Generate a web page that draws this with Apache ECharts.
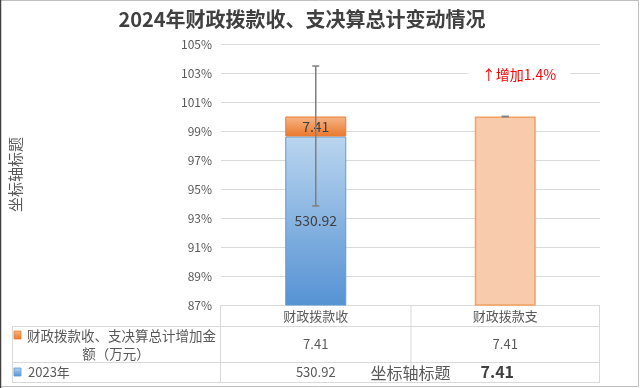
<!DOCTYPE html>
<html><head><meta charset="utf-8">
<script src="https://cdn.jsdelivr.net/npm/echarts@6/dist/echarts.min.js"></script>
<style>html,body{margin:0;padding:0;background:#fff}#c{width:640px;height:388px}</style>
</head><body><div id="c"></div>
<script>
const titleText = '2024年财政拨款收、支决算总计变动情况';
const categories = ['财政拨款收', '财政拨款支'];
const seriesNames = ['财政拨款收、支决算总计增加金额（万元）', '2023年'];
const values2023 = [530.92, null];
const valuesIncrease = [7.41, 7.41];
const errLow = [93.83, 100];
const errHigh = [103.48, 100];
const yMin = 87, yMax = 105, yStep = 2;
const axisTitle = '坐标轴标题';
const annotationText = '↑增加1.4%';
const strayLabel = '7.41';

const totals = categories.map((c, i) => (values2023[i] || 0) + (valuesIncrease[i] || 0));
const pct2023 = values2023.map((v, i) => v == null ? null : v / totals[i] * 100);
const pctInc = valuesIncrease.map((v, i) => v == null ? null : v / totals[i] * 100);

const GL = 220, GR = 600, GT = 44, GB = 305;
const font = '"Noto Sans CJK SC", "Noto Sans", sans-serif';
const blueGrad = new echarts.graphic.LinearGradient(0, 0, 0, 1, [{offset: 0, color: '#bad5ef'}, {offset: 1, color: '#5592d3'}]);
const orangeGrad = new echarts.graphic.LinearGradient(0, 0, 0, 1, [{offset: 0, color: '#f6b688'}, {offset: 1, color: '#e9772c'}]);

const chart = echarts.init(document.getElementById('c'));
chart.setOption({
  backgroundColor: '#fff',
  animation: false,
  textStyle: {fontFamily: font},
  title: {text: titleText, left: 297, top: 4, textAlign: 'center',
    textStyle: {fontSize: 20, fontWeight: 'bold', color: '#404040', fontFamily: font}},
  grid: {left: GL, right: 640 - GR, top: GT, bottom: 388 - GB},
  xAxis: {type: 'category', data: categories,
    axisLine: {show: false}, axisTick: {show: false},
    axisLabel: {margin: 4, fontSize: 13, color: '#595959', lineHeight: 14},
    name: axisTitle, nameLocation: 'middle', nameGap: 60,
    nameTextStyle: {fontSize: 16, color: '#595959'}},
  yAxis: {type: 'value', min: yMin, max: yMax, interval: yStep,
    axisLine: {show: false}, axisTick: {show: false},
    axisLabel: {formatter: '{value}%', fontSize: 12, color: '#595959', margin: 9},
    splitLine: {lineStyle: {color: '#d9d9d9', width: 1}},
    name: axisTitle, nameLocation: 'middle', nameGap: 198, nameRotate: 90,
    nameTextStyle: {fontSize: 15, color: '#595959'}},
  series: [
    {name: seriesNames[1], type: 'bar', stack: 's', barWidth: 61,
      data: pct2023,
      itemStyle: {color: blueGrad, borderColor: '#5b9bd5', borderWidth: 1},
      label: {show: true, position: 'inside', fontSize: 14, color: '#404040',
        formatter: p => values2023[p.dataIndex] == null ? '' : values2023[p.dataIndex].toFixed(2)}},
    {name: seriesNames[0], type: 'bar', stack: 's', barWidth: 61,
      data: pctInc.map((v, i) => i === 0 ? {
        value: v, itemStyle: {color: orangeGrad, borderColor: '#ed7d31', borderWidth: 1},
        label: {show: true}
      } : {
        value: v, itemStyle: {color: '#f8cbad', borderColor: '#f4a063', borderWidth: 1.5},
        label: {show: false}
      }),
      label: {position: 'inside', fontSize: 14, color: '#404040',
        formatter: p => valuesIncrease[p.dataIndex].toFixed(2)}},
    {type: 'custom', z: 10,
      data: categories.map((c, i) => [i, errLow[i], errHigh[i]]),
      renderItem: (params, api) => {
        const x = api.coord([api.value(0), 0])[0];
        const lo = api.coord([api.value(0), api.value(1)])[1];
        const hi = api.coord([api.value(0), api.value(2)])[1];
        const st = {stroke: '#7f7f7f', lineWidth: 1.5};
        return {type: 'group', children: [
          {type: 'line', shape: {x1: x, y1: lo, x2: x, y2: hi}, style: st},
          {type: 'line', shape: {x1: x - 3.5, y1: hi, x2: x + 3.5, y2: hi}, style: st},
          {type: 'line', shape: {x1: x - 3.5, y1: lo, x2: x + 3.5, y2: lo}, style: st}
        ]};
      }}
  ]
});

const cx = categories.map((c, i) => chart.convertToPixel({xAxisIndex: 0}, i));
const div = (cx[0] + cx[1]) / 2;
const lineC = '#d9d9d9';
const L = (x1, y1, x2, y2) => ({type: 'line', shape: {x1, y1, x2, y2}, style: {stroke: lineC, lineWidth: 1}, silent: true});
const T = (x, y, text, opt) => ({type: 'text', x, y, style: Object.assign({text, fontFamily: font, fontSize: 13, fill: '#595959', textAlign: 'center', textVerticalAlign: 'middle'}, opt || {})});
const R1 = 344, R2 = 372;
chart.setOption({graphic: [
  {type: 'rect', shape: {x: 0.5, y: 0.5, width: 638, height: 386}, style: {fill: 'none', stroke: '#bfbfbf', lineWidth: 1}},
  {type: 'line', shape: {x1: 0.5, y1: 0, x2: 0.5, y2: 388}, style: {stroke: '#404040', lineWidth: 1.5}},
  L(GL, 305.5, GR, 305.5), L(12, 326.5, GR, 326.5), L(12, 362.5, GR, 362.5), L(12, 382.5, GR, 382.5),
  L(12.5, 326, 12.5, 383), L(GL + 0.5, 305, GL + 0.5, 383), L(div + 0.5, 305, div + 0.5, 383), L(GR - 0.5, 305, GR - 0.5, 383),
  {type: 'rect', shape: {x: 14, y: 331, width: 7, height: 8}, style: {fill: orangeGrad, stroke: '#ed7d31', lineWidth: 0.8}},
  {type: 'rect', shape: {x: 14, y: 368, width: 7, height: 8}, style: {fill: blueGrad, stroke: '#5b9bd5', lineWidth: 0.8}},
  T(27, 336, '财政拨款收、支决算总计增加金', {textAlign: 'left', fontSize: 13.5}),
  T(116, 354, '额（万元）', {fontSize: 13.5}),
  T(28, 372, '2023年', {textAlign: 'left'}),
  ...cx.map((x, i) => T(x, R1, valuesIncrease[i].toFixed(2))),
  ...cx.map((x, i) => values2023[i] == null ? null : T(x, R2, values2023[i].toFixed(2))).filter(Boolean),
  T(cx[1] - 8, R2, strayLabel, {fontSize: 16, fontWeight: 'bold', fill: '#404040'}),
  {type: 'text', x: 519, y: 75, z: 20, style: {text: annotationText, fontFamily: font, fontSize: 14, fill: '#ff0000',
    textAlign: 'center', textVerticalAlign: 'middle', backgroundColor: '#fff', padding: [3, 14]}}
]});
</script></body></html>
